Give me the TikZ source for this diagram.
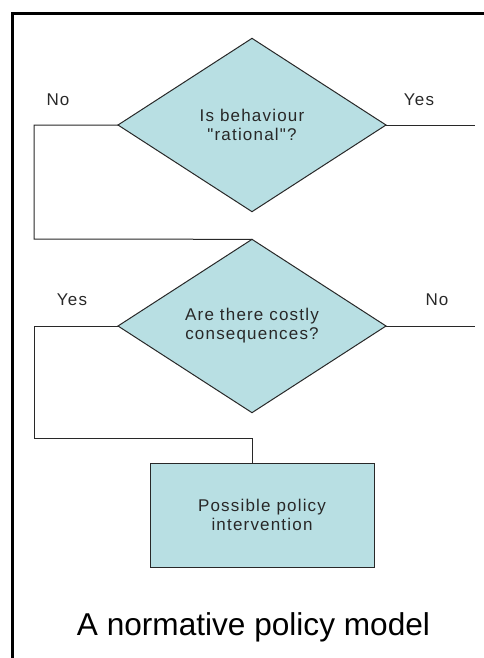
\documentclass[tikz,border=0pt]{standalone}
\usepackage{fontspec}
\setmainfont{Liberation Sans}
\newfontfamily\chartfont[LetterSpace=7]{Liberation Sans}
\usetikzlibrary{shapes.geometric}
\definecolor{boxfill}{RGB}{184,223,227}
\definecolor{ink}{RGB}{40,40,40}

\begin{document}
\begin{tikzpicture}[x=0.75pt,y=-0.75pt,
	chart/.style = {font=\chartfont\fontsize{12.75}{14.25}\selectfont, text=ink},
	decision/.style = {chart, diamond, draw=ink, fill=boxfill, line width=0.75pt,
		inner sep=0pt, outer sep=0pt, align=center,
		minimum width=201pt, minimum height=130pt},
	action/.style = {chart, rectangle, draw=ink, fill=boxfill, line width=0.75pt,
		inner sep=0pt, outer sep=0pt, align=center,
		minimum width=168pt, minimum height=78pt},
	answer/.style = {chart, inner sep=0pt},
	flow/.style = {draw=ink, line width=0.75pt}]
	\useasboundingbox (0,0) rectangle (484,658);
	% frame
	\draw[line width=2.25pt] (12.5,680) -- (12.5,13.5) -- (500,13.5);
	% decisions and action
	\node[decision] (rational) at (252,125) {Is behaviour\\"rational"?};
	\node[decision] (costly) at (252,326) {Are there costly\\consequences?};
	\node[action] (policy) at (262,515) {Possible policy\\intervention};
	% corners and loose ends
	\coordinate (noturn) at (34,239);
	\coordinate (yesturn) at (34,438);
	\coordinate (policyin) at (252,463);
	\coordinate (yesout) at (475,125);
	\coordinate (noout) at (475,326);
	% connectors
	\draw[flow] (rational.west) -| (noturn) -- (costly.north);
	\draw[flow] (rational.east) -- (yesout);
	\draw[flow] (costly.west) -| (yesturn) -| (policyin);
	\draw[flow] (costly.east) -- (noout);
	% answers
	\node[answer] (norational) at (58,100) {No};
	\node[answer] (yesrational) at (419,100) {Yes};
	\node[answer] (yescostly) at (72,300) {Yes};
	\node[answer] (nocostly) at (437,300) {No};
	% caption
	\node[font=\fontsize{23.7}{28}\selectfont, text=black] (caption) at (253.5,627) {A normative policy model};
\end{tikzpicture}
\end{document}
